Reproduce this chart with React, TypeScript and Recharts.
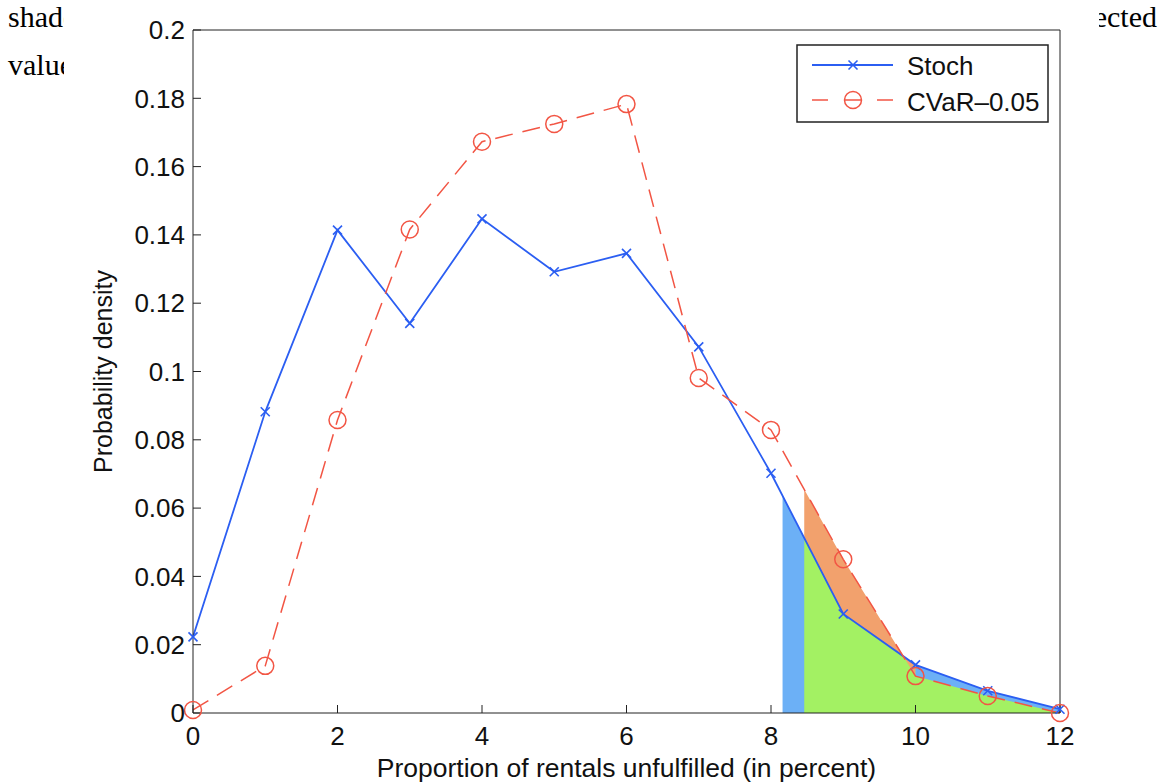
import React from "react";
import { ComposedChart, Line, Area, XAxis, YAxis, ReferenceArea } from "recharts";

// proportion of rentals unfulfilled (percent)
const xs = [0, 1, 2, 3, 4, 5, 6, 7, 8, 9, 10, 11, 12];
const stoch = [0.0223, 0.0882, 0.1414, 0.1141, 0.1447, 0.1292, 0.1346, 0.1072, 0.0702, 0.029, 0.0141, 0.0065, 0.0011];
const cvar = [0.0009, 0.0138, 0.0858, 0.1416, 0.1673, 0.1725, 0.1783, 0.0981, 0.0829, 0.045, 0.0108, 0.005, 0];

const xTicks = [0, 2, 4, 6, 8, 10, 12];
const yTicks = [0, 0.02, 0.04, 0.06, 0.08, 0.1, 0.12, 0.14, 0.16, 0.18, 0.2];

// where the shaded tails begin
const stochTailStart = 8.16;
const cvarTailStart = 8.46;

const data = xs.map((x, i) => ({
  x,
  stoch: stoch[i],
  cvar: cvar[i],
  above: x >= 8 && x <= 10 ? [stoch[i], cvar[i]] : null,
  below: x >= 10 ? [cvar[i], stoch[i]] : null,
}));

const BLUE = "#2b5ef2";
const RED = "#f25544";
const FILL_BLUE = "#6cb0f6";
const FILL_GREEN = "#a3f163";
const FILL_ORANGE = "#f2a16d";
const SANS = '"Liberation Sans", Arial, sans-serif';
const SERIF = '"Liberation Serif", "Times New Roman", serif';

const clipShape = (id: string) => (p: any) => (
  <clipPath id={id}>
    <rect x={p.x} y={p.y - 2} width={p.width + 2} height={p.height + 4} />
  </clipPath>
);

const CrossDot = (p: any) => {
  const { cx, cy } = p;
  if (cx == null || cy == null) return <g key={p.key} />;
  const s = 4.5;
  return (
    <g key={p.key}>
      <line x1={cx - s} y1={cy - s} x2={cx + s} y2={cy + s} stroke={BLUE} strokeWidth={1.6} />
      <line x1={cx - s} y1={cy + s} x2={cx + s} y2={cy - s} stroke={BLUE} strokeWidth={1.6} />
    </g>
  );
};

const CircleDot = (p: any) => {
  const { cx, cy } = p;
  if (cx == null || cy == null) return <g key={p.key} />;
  return <circle key={p.key} cx={cx} cy={cy} r={8.5} fill="none" stroke={RED} strokeWidth={1.5} />;
};

const fmt = (v: number) => String(+v.toFixed(2));

function LegendBox() {
  return (
    <svg width={254} height={80} style={{ position: "absolute", left: 732, top: 44 }}>
      <rect x={1} y={1} width={251} height={77} fill="#fff" stroke="#222" strokeWidth={1.5} />
      <line x1={16} y1={21} x2={97} y2={21} stroke={BLUE} strokeWidth={1.8} />
      <CrossDot cx={57} cy={21} />
      <line x1={16} y1={56} x2={32} y2={56} stroke={RED} strokeWidth={1.5} />
      <line x1={49} y1={56} x2={65} y2={56} stroke={RED} strokeWidth={1.5} />
      <line x1={81} y1={56} x2={97} y2={56} stroke={RED} strokeWidth={1.5} />
      <CircleDot cx={57} cy={56} />
      <text x={111} y={22} fontFamily={SANS} fontSize={26} fill="#111" dominantBaseline="central">
        Stoch
      </text>
      <text x={111} y={58} fontFamily={SANS} fontSize={26} fill="#111" dominantBaseline="central">
        CVaR–0.05
      </text>
    </svg>
  );
}

export default function App() {
  const tickStyle = { fill: "#111", fontSize: 26, fontFamily: SANS };
  return (
    <div style={{ position: "absolute", left: 0, top: 0, width: 1171, height: 784, background: "#fff", overflow: "hidden" }}>
      <div style={{ position: "absolute", left: 8, top: 2, fontFamily: SERIF, fontSize: 30, lineHeight: "30px" }}>shaded</div>
      <div style={{ position: "absolute", left: 8, top: 50, fontFamily: SERIF, fontSize: 30, lineHeight: "30px" }}>values</div>
      <div style={{ position: "absolute", right: 14, top: 2, fontFamily: SERIF, fontSize: 30, lineHeight: "30px" }}>expected</div>

      <div style={{ position: "absolute", left: 64, top: 0, width: 1035, height: 784, background: "#fff" }}>
        <ComposedChart width={1035} height={784} data={data} margin={{ top: 29, right: 38, bottom: 0, left: 9 }}>
          <XAxis
            dataKey="x"
            type="number"
            domain={[0, 12]}
            ticks={xTicks}
            tickSize={-8}
            tickMargin={22}
            height={71}
            stroke="#222"
            tick={tickStyle}
            label={{ value: "Proportion of rentals unfulfilled (in percent)", position: "insideBottom", offset: 7, fill: "#111", fontSize: 26.5, fontFamily: SANS }}
          />
          <XAxis xAxisId="top" orientation="top" type="number" domain={[0, 12]} ticks={xTicks} tickSize={-8} height={1} tick={false} stroke="#222" />
          <YAxis
            type="number"
            domain={[0, 0.2]}
            ticks={yTicks}
            tickSize={-8}
            tickMargin={16}
            width={120}
            stroke="#222"
            tick={tickStyle}
            tickFormatter={fmt}
            label={{ value: "Probability density", angle: -90, position: "center", dx: -30, fill: "#111", fontSize: 25, fontFamily: SANS }}
          />
          <YAxis yAxisId="right" orientation="right" type="number" domain={[0, 0.2]} ticks={yTicks} tickSize={-8} width={1} tick={false} stroke="#222" />

          <ReferenceArea x1={stochTailStart} x2={12} shape={clipShape("tailStoch")} ifOverflow="visible" />
          <ReferenceArea x1={cvarTailStart} x2={12} shape={clipShape("tailCvar")} ifOverflow="visible" />

          <Area type="linear" dataKey="stoch" stroke="none" fill={FILL_BLUE} fillOpacity={1} clipPath="url(#tailStoch)" dot={false} activeDot={false} isAnimationActive={false} />
          <Area type="linear" dataKey="stoch" stroke="none" fill={FILL_GREEN} fillOpacity={1} clipPath="url(#tailCvar)" dot={false} activeDot={false} isAnimationActive={false} />
          <Area type="linear" dataKey="above" stroke="none" fill={FILL_ORANGE} fillOpacity={1} clipPath="url(#tailCvar)" dot={false} activeDot={false} isAnimationActive={false} />
          <Area type="linear" dataKey="below" stroke="none" fill={FILL_BLUE} fillOpacity={1} clipPath="url(#tailCvar)" dot={false} activeDot={false} isAnimationActive={false} />

          <Line type="linear" dataKey="stoch" stroke={BLUE} strokeWidth={1.8} dot={(p: any) => <CrossDot {...p} />} activeDot={false} isAnimationActive={false} />
          <Line type="linear" dataKey="cvar" stroke={RED} strokeWidth={1.5} strokeDasharray="18 10" dot={(p: any) => <CircleDot {...p} />} activeDot={false} isAnimationActive={false} />
        </ComposedChart>
        <LegendBox />
      </div>
    </div>
  );
}
